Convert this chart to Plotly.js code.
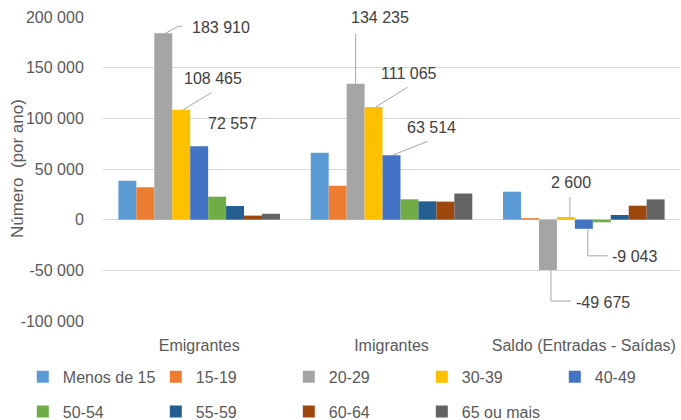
<!DOCTYPE html>
<html>
<head>
<meta charset="utf-8">
<script src="https://cdn.plot.ly/plotly-3.0.1.min.js"></script>
<style>html,body{margin:0;padding:0;background:#fff;}#chart{width:681px;height:420px;}</style>
</head>
<body>
<div id="chart"></div>
<script>
// ---- data ----
const groups = ['Emigrantes', 'Imigrantes', 'Saldo (Entradas - Saídas)'];
const ageGroups = ['Menos de 15', '15-19', '20-29', '30-39', '40-49', '50-54', '55-59', '60-64', '65 ou mais'];
const emigrantes = [38400, 32000, 183910, 108465, 72557, 22700, 13500, 4000, 5800];
const imigrantes = [66000, 33500, 134235, 111065, 63514, 20100, 18100, 17800, 25800];
const saldo      = [27600, 1500, -49675, 2600, -9043, -2600, 4600, 13800, 20000];
const yTicks = [-100000, -50000, 0, 50000, 100000, 150000, 200000];
const yTitle = 'Número  (por ano)';

const colors = ['#5B9BD5', '#ED7D31', '#A5A5A5', '#FFC000', '#4472C4', '#70AD47', '#255E91', '#9E480E', '#636363'];
const FONT = 'Liberation Sans, Arial, sans-serif';

function fmt(v) {
  const s = Math.abs(Math.round(v)).toString().replace(/\B(?=(\d{3})+(?!\d))/g, ' ');
  return (v < 0 ? '-' : '') + s;
}

const series = [emigrantes, imigrantes, saldo];
const traces = ageGroups.map((name, i) => ({
  type: 'bar',
  name: name,
  x: [0, 1, 2],
  y: series.map(s => s[i]),
  marker: { color: colors[i], line: { width: 0 } },
  legend: i < 5 ? 'legend' : 'legend2',
  hoverinfo: 'skip'
}));

// label placement (pixel offsets from bar end) and leader paths
const GAP = 0.16, N = ageGroups.length;
function barX(g, i) { return g - (1 - GAP) / 2 + (1 - GAP) / N * (i + 0.5); }
const labels = [
  // [group, ageIndex, dx, dy(up), leader path in px relative to bar end]
  [0, 2, 58, 6, 'M2,0 L15,7 L19,7'],
  [0, 3, 32, 31, 'M2,0 L30,17'],
  [0, 4, 33, 23, null],
  [1, 2, 24, 66, 'M0,0 L0,50'],
  [1, 3, 35, 34, 'M2,0 L34,20'],
  [1, 4, 40, 28, 'M1,0 L36,14'],
  [2, 2, 55, -32, 'M3,0 L3,-31 L23,-31'],
  [2, 3, 5, 35, 'M4,0 L4,20'],
  [2, 4, 51, -28, 'M4,0 L4,-27 L24,-27']
];
const annotations = labels.map(([g, i, dx, dy]) => ({
  x: barX(g, i), y: series[g][i], xref: 'x', yref: 'y',
  text: fmt(series[g][i]), showarrow: false,
  xanchor: 'center', yanchor: 'middle', xshift: dx, yshift: dy,
  font: { family: FONT, size: 16, color: '#404040' }
}));
annotations.push({
  xref: 'paper', yref: 'paper', x: -0.149, y: 0.5, textangle: -90,
  text: yTitle, showarrow: false, xanchor: 'center', yanchor: 'middle',
  font: { family: FONT, size: 17, color: '#595959' }
});
const shapes = labels.filter(l => l[4]).map(([g, i, dx, dy, p]) => ({
  type: 'path', xref: 'x', yref: 'y',
  xsizemode: 'pixel', ysizemode: 'pixel',
  xanchor: barX(g, i), yanchor: series[g][i],
  path: p, line: { color: '#A6A6A6', width: 1 }
}));

const legendBase = {
  orientation: 'h', x: -0.139, xanchor: 'left', yanchor: 'middle',
  entrywidth: 88, entrywidthmode: 'pixels',
  font: { family: FONT, size: 16, color: '#595959' },
  bgcolor: 'rgba(0,0,0,0)', traceorder: 'normal'
};

const layout = {
  width: 681, height: 420,
  margin: { l: 103, r: 1, t: 17, b: 99, autoexpand: false },
  paper_bgcolor: '#fff', plot_bgcolor: '#fff',
  font: { family: FONT, size: 16, color: '#595959' },
  barmode: 'group', bargap: GAP, bargroupgap: 0,
  showlegend: true,
  xaxis: {
    type: 'linear', range: [-0.5, 2.5],
    tickvals: [0, 1, 2], ticktext: groups,
    ticks: 'outside', ticklen: 10, tickcolor: 'rgba(0,0,0,0)',
    showgrid: false, zeroline: false, showline: false, automargin: false,
    tickfont: { family: FONT, size: 16, color: '#595959' }
  },
  yaxis: {
    range: [-100000, 200000],
    tickvals: yTicks, ticktext: yTicks.map(fmt),
    ticks: 'outside', ticklen: 15, tickcolor: 'rgba(0,0,0,0)',
    showgrid: true, gridcolor: '#D9D9D9', gridwidth: 1,
    zeroline: true, zerolinecolor: '#D9D9D9', zerolinewidth: 1,
    showline: false, automargin: false,
    tickfont: { family: FONT, size: 16, color: '#595959' }
  },
  legend: Object.assign({}, legendBase, { y: -0.184 }),
  legend2: Object.assign({}, legendBase, { y: -0.298 }),
  annotations: annotations,
  shapes: shapes
};

Plotly.newPlot('chart', traces, layout, { displayModeBar: false, staticPlot: true });
</script>
</body>
</html>
